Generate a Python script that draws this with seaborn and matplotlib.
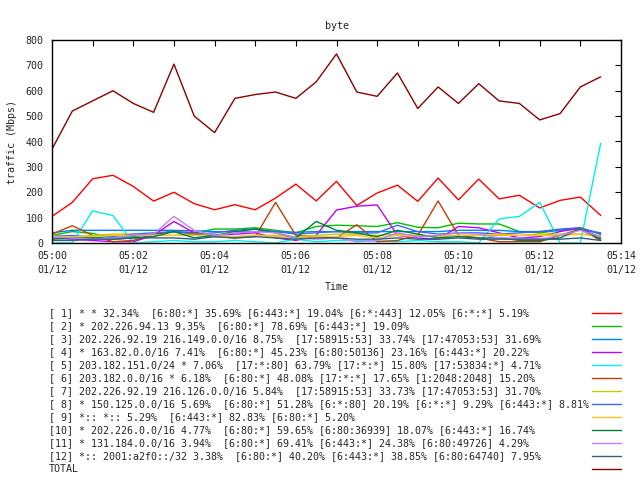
import numpy as np
import pandas as pd
import matplotlib
matplotlib.use("Agg")
import matplotlib.pyplot as plt
import matplotlib.dates as mdates
from matplotlib.lines import Line2D
import seaborn as sns

# ---------------- data ----------------
times = pd.date_range("2024-01-12 05:00:00", periods=28, freq="30s")

s1 = [105, 160, 253, 267, 223, 165, 200, 155, 131, 151, 131, 177, 232, 166,
      243, 148, 197, 228, 164, 256, 170, 252, 174, 188, 138, 168, 181, 109]
s2 = [30, 45, 38, 20, 25, 35, 45, 40, 55, 55, 60, 50, 40, 65,
      70, 68, 65, 80, 62, 60, 78, 75, 75, 45, 40, 50, 60, 35]
s3 = [40, 50, 50, 50, 50, 50, 50, 48, 45, 45, 45, 45, 42, 45,
      45, 45, 45, 45, 45, 45, 50, 50, 50, 45, 45, 50, 55, 40]
s4 = [20, 15, 10, 5, 5, 30, 85, 40, 30, 35, 40, 20, 10, 30,
      130, 145, 150, 30, 20, 15, 65, 60, 40, 20, 25, 45, 60, 20]
s5 = [0, 0, 127, 108, 0, 5, 10, 5, 5, 10, 5, 0, 15, 5,
      10, 10, 8, 5, 10, 5, 5, 0, 95, 105, 160, 0, 0, 393]
s6 = [35, 68, 30, 5, 10, 35, 45, 40, 25, 20, 25, 160, 30, 25,
      20, 72, 5, 10, 30, 166, 30, 20, 5, 5, 5, 30, 55, 10]
s7 = [30, 25, 30, 35, 35, 30, 30, 35, 30, 25, 30, 30, 25, 30,
      35, 35, 30, 35, 30, 25, 30, 30, 30, 30, 35, 35, 35, 30]
s8 = [25, 30, 20, 25, 35, 40, 45, 35, 40, 50, 55, 45, 35, 40,
      45, 40, 40, 70, 45, 35, 40, 40, 35, 40, 45, 55, 60, 35]
s9 = [25, 25, 25, 30, 30, 30, 30, 30, 25, 25, 30, 25, 20, 25,
      25, 30, 20, 30, 25, 30, 30, 30, 35, 30, 30, 30, 35, 25]
s10 = [15, 20, 20, 15, 20, 25, 45, 20, 30, 45, 55, 40, 20, 85,
       50, 40, 25, 50, 35, 20, 25, 20, 20, 10, 10, 20, 55, 15]
s11 = [25, 20, 15, 20, 30, 35, 105, 50, 30, 40, 45, 40, 20, 15,
       20, 5, 10, 40, 25, 30, 40, 35, 20, 20, 15, 30, 50, 25]
s12 = [10, 10, 15, 15, 20, 20, 20, 15, 25, 20, 25, 20, 15, 20,
       20, 15, 15, 20, 15, 15, 20, 15, 15, 15, 15, 15, 20, 10]
total = [370, 520, 560, 600, 550, 515, 705, 500, 435, 570, 585, 595, 570, 635,
         745, 595, 578, 670, 530, 615, 550, 628, 560, 550, 485, 510, 615, 655]

labels = [
    "[ 1] * * 32.34%  [6:80:*] 35.69% [6:443:*] 19.04% [6:*:443] 12.05% [6:*:*] 5.19%",
    "[ 2] * 202.226.94.13 9.35%  [6:80:*] 78.69% [6:443:*] 19.09%",
    "[ 3] 202.226.92.19 216.149.0.0/16 8.75%  [17:58915:53] 33.74% [17:47053:53] 31.69%",
    "[ 4] * 163.82.0.0/16 7.41%  [6:80:*] 45.23% [6:80:50136] 23.16% [6:443:*] 20.22%",
    "[ 5] 203.182.151.0/24 * 7.06%  [17:*:80] 63.79% [17:*:*] 15.80% [17:53834:*] 4.71%",
    "[ 6] 203.182.0.0/16 * 6.18%  [6:80:*] 48.08% [17:*:*] 17.65% [1:2048:2048] 15.20%",
    "[ 7] 202.226.92.19 216.126.0.0/16 5.84%  [17:58915:53] 33.73% [17:47053:53] 31.70%",
    "[ 8] * 150.125.0.0/16 5.69%  [6:80:*] 51.28% [6:*:80] 20.19% [6:*:*] 9.29% [6:443:*] 8.81%",
    "[ 9] *:: *:: 5.29%  [6:443:*] 82.83% [6:80:*] 5.20%",
    "[10] * 202.226.0.0/16 4.77%  [6:80:*] 59.65% [6:80:36939] 18.07% [6:443:*] 16.74%",
    "[11] * 131.184.0.0/16 3.94%  [6:80:*] 69.41% [6:443:*] 24.38% [6:80:49726] 4.29%",
    "[12] *:: 2001:a2f0::/32 3.38%  [6:80:*] 40.20% [6:443:*] 38.85% [6:80:64740] 7.95%",
    "TOTAL",
]
series = [s1, s2, s3, s4, s5, s6, s7, s8, s9, s10, s11, s12, total]
colors = ["#ff0000", "#00c000", "#0080ff", "#c000ff", "#00eeee", "#c04000",
          "#c8c800", "#4169e1", "#ffc020", "#008040", "#c080ff", "#306080",
          "#8b0000"]

rows = []
for lab, vals in zip(labels, series):
    for t, v in zip(times, vals):
        rows.append({"time": t, "traffic": v, "series": lab})
df = pd.DataFrame(rows)

# ---------------- plot ----------------
sns.set_style("white")
plt.rcParams["font.family"] = ["DejaVu Sans Mono", "DejaVu Sans"]
FS = 7.2

fig = plt.figure(figsize=(6.4, 4.8), dpi=100)
ax = fig.add_axes([52 / 640, 1 - 243 / 480, (621 - 52) / 640, (243 - 40) / 480])

sns.lineplot(data=df, x="time", y="traffic", hue="series", hue_order=labels,
             palette=dict(zip(labels, colors)), legend=False, linewidth=1.0,
             ax=ax)

ax.set_xlim(pd.Timestamp("2024-01-12 05:00"), pd.Timestamp("2024-01-12 05:14"))
ax.set_ylim(0, 800)
ax.set_yticks(range(0, 801, 100))
ax.xaxis.set_major_locator(mdates.MinuteLocator(byminute=range(0, 60, 2)))
ax.xaxis.set_minor_locator(mdates.MinuteLocator())
ax.xaxis.set_major_formatter(mdates.DateFormatter("%H:%M\n%m/%d"))

ax.tick_params(axis="both", which="both", direction="in", top=True, right=True,
               labelsize=FS, color="black", width=0.8)
ax.tick_params(axis="both", which="major", length=4)
ax.tick_params(axis="x", which="minor", length=4)
ax.tick_params(axis="x", pad=6)
ax.tick_params(axis="y", pad=6)
for lbl in ax.get_xticklabels():
    lbl.set_linespacing(1.5)

for sp in ax.spines.values():
    sp.set_color("black")
    sp.set_linewidth(1.0)

ax.set_title("byte", fontsize=FS, pad=8)
ax.set_xlabel("Time", fontsize=FS)
ax.set_ylabel("traffic (Mbps)", fontsize=FS)
ax.xaxis.set_label_coords(0.5, -0.19)
ax.yaxis.set_label_coords(-0.062, 0.5)

# custom legend: text on the left, line samples on the right
for i, (lab, col) in enumerate(zip(labels, colors)):
    ypx = 313 + 13 * i
    yf = 1 - ypx / 480
    fig.text(49 / 640, yf, lab, fontsize=FS, ha="left", va="center")
    fig.add_artist(Line2D([592 / 640, 621 / 640], [yf, yf], color=col,
                          linewidth=1.0, transform=fig.transFigure))

fig.savefig("out.png", dpi=100, facecolor="white")
